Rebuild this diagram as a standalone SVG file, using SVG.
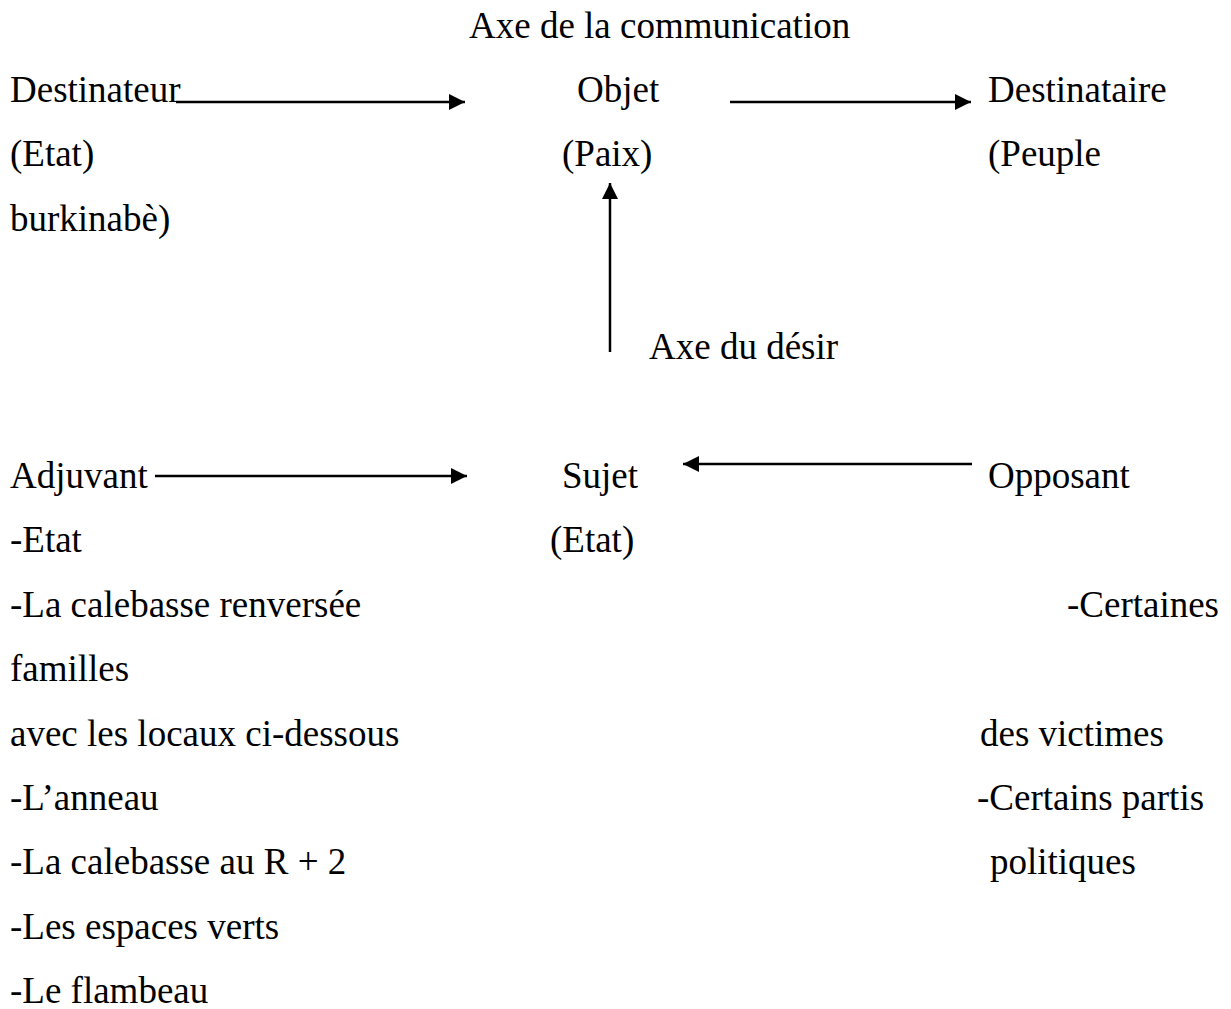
<svg xmlns="http://www.w3.org/2000/svg" width="1231" height="1009" viewBox="0 0 1231 1009">
<style>
text { font-family: "Liberation Serif", "Times New Roman", serif; font-size: 37px; fill: #000; }
.conn { stroke: #000; stroke-width: 2.5; fill: none; marker-end: url(#arrow); }
</style>
<defs>
<marker id="arrow" markerUnits="userSpaceOnUse" markerWidth="17" markerHeight="17" refX="16" refY="8" orient="auto">
<path d="M0,0 L16,8 L0,16 z" fill="#000"/>
</marker>
</defs>
<rect width="1231" height="1009" fill="#fff"/>
<g id="title-communication"><text x="469" y="38">Axe de la communication</text></g>
<g id="destinateur">
<text x="10" y="102">Destinateur</text>
<text x="10" y="166">(Etat)</text>
<text x="10" y="231">burkinabè)</text>
</g>
<g id="objet">
<text x="577" y="102">Objet</text>
<text x="562" y="166">(Paix)</text>
</g>
<g id="destinataire">
<text x="988" y="102">Destinataire</text>
<text x="988" y="166">(Peuple</text>
</g>
<g id="axe-desir"><text x="649" y="359">Axe du désir</text></g>
<g id="adjuvant">
<text x="10" y="488">Adjuvant</text>
<text x="10" y="552">-Etat</text>
<text x="10" y="617">-La calebasse renversée</text>
<text x="10" y="681">familles</text>
<text x="10" y="746">avec les locaux ci-dessous</text>
<text x="10" y="810">-L’anneau</text>
<text x="10" y="874">-La calebasse au R + 2</text>
<text x="10" y="939">-Les espaces verts</text>
<text x="10" y="1003">-Le flambeau</text>
</g>
<g id="sujet">
<text x="562" y="488">Sujet</text>
<text x="550" y="552">(Etat)</text>
</g>
<g id="opposant">
<text x="988" y="488">Opposant</text>
<text x="1219" y="617" text-anchor="end">-Certaines</text>
<text x="980" y="746">des victimes</text>
<text x="977" y="810">-Certains partis</text>
<text x="990" y="874">politiques</text>
</g>
<g id="connectors">
<line class="conn" x1="176" y1="102" x2="465" y2="102"/>
<line class="conn" x1="730" y1="102" x2="971" y2="102"/>
<line class="conn" x1="610" y1="352" x2="610" y2="183"/>
<line class="conn" x1="155" y1="476" x2="467" y2="476"/>
<line class="conn" x1="972" y1="464" x2="683" y2="464"/>
</g>
</svg>
